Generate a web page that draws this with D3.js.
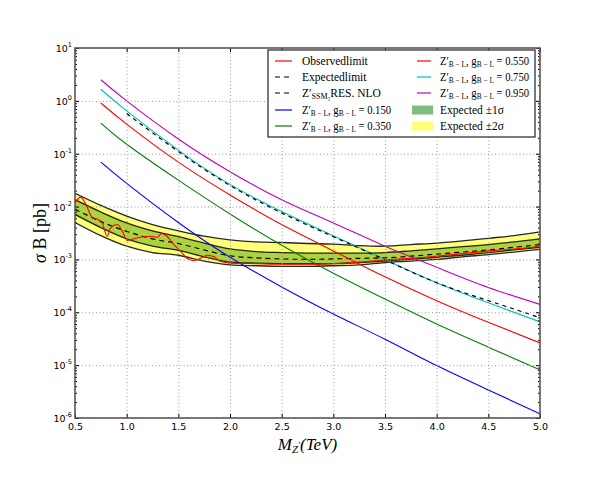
<!DOCTYPE html>
<html>
<head>
<meta charset="utf-8">
<script src="https://cdn.jsdelivr.net/npm/d3@7"></script>
<style>
  body { margin: 0; background: #fff; }
  svg { display: block; }
  .tick text { font-family: "DejaVu Sans", sans-serif; font-size: 9.5px; fill: #000; }
  .grid line { stroke: #9a9a9a; stroke-dasharray: 1,2.5; stroke-width: 1; }
  .grid path { display: none; }
  .legend text { font-family: "Liberation Serif", "DejaVu Serif", serif; font-size: 11.5px; }
</style>
</head>
<body>
<svg id="chart" width="600" height="480"></svg>
<script>
// ---- data (cross sections in pb) ----
const massTheory = [0.75, 1.0, 1.5, 2.0, 2.5, 3.0, 3.5, 4.0, 4.5, 5.0];
const xsecG150 = [0.0692, 0.0275, 0.0050, 0.0011, 3.02e-4, 9.3e-5, 3.09e-5, 9.8e-6, 3.39e-6, 1.2e-6];
const xsecG350 = [0.380, 0.151, 0.0316, 0.00724, 0.00186, 5.5e-4, 1.78e-4, 6.0e-5, 2.19e-5, 8.1e-6];
const xsecG550 = [0.912, 0.363, 0.0692, 0.0166, 0.00457, 0.00145, 4.68e-4, 1.66e-4, 6.46e-5, 2.63e-5];
const xsecG750 = [1.66, 0.646, 0.117, 0.0263, 0.0081, 0.00282, 0.00100, 3.63e-4, 1.51e-4, 6.6e-5];
const xsecG950 = [2.51, 1.0, 0.19, 0.0457, 0.0135, 0.0049, 0.00178, 7.1e-4, 2.95e-4, 1.41e-4];

const massSSM = [1.0, 1.5, 2.0, 2.5, 3.0, 3.5, 4.0, 4.5, 5.0];
const xsecSSM = [0.575, 0.110, 0.0251, 0.00759, 0.00269, 9.8e-4, 3.63e-4, 1.66e-4, 7.9e-5];

const massBand = [0.5, 0.75, 1.0, 1.25, 1.5, 1.75, 2.0, 2.25, 2.5, 2.75, 3.0, 3.25, 3.5, 3.75, 4.0, 4.25, 4.5, 4.75, 5.0];
const expLimit = [8.9e-3, 5.2e-3, 3.4e-3, 2.45e-3, 2.0e-3, 1.51e-3, 1.17e-3, 1.07e-3, 1.02e-3, 1.0e-3, 1.02e-3, 1.05e-3, 1.07e-3, 1.15e-3, 1.26e-3, 1.38e-3, 1.51e-3, 1.70e-3, 1.91e-3];
const plus2 = [1.78e-2, 1.05e-2, 6.6e-3, 4.57e-3, 3.47e-3, 2.75e-3, 2.34e-3, 2.14e-3, 2.09e-3, 2.0e-3, 1.95e-3, 1.82e-3, 1.78e-3, 1.91e-3, 2.04e-3, 2.24e-3, 2.51e-3, 2.82e-3, 3.31e-3];
const plus1 = [1.35e-2, 7.9e-3, 4.9e-3, 3.47e-3, 2.69e-3, 2.04e-3, 1.58e-3, 1.41e-3, 1.35e-3, 1.32e-3, 1.32e-3, 1.32e-3, 1.35e-3, 1.45e-3, 1.58e-3, 1.74e-3, 1.91e-3, 2.14e-3, 2.45e-3];
const minus1 = [7.1e-3, 4.0e-3, 2.45e-3, 1.78e-3, 1.48e-3, 1.12e-3, 8.9e-4, 8.5e-4, 8.3e-4, 8.3e-4, 8.3e-4, 8.7e-4, 9.3e-4, 1.0e-3, 1.10e-3, 1.20e-3, 1.35e-3, 1.51e-3, 1.70e-3];
const minus2 = [5.0e-3, 2.82e-3, 1.78e-3, 1.35e-3, 1.20e-3, 9.3e-4, 7.9e-4, 7.6e-4, 7.4e-4, 7.4e-4, 7.6e-4, 7.9e-4, 8.7e-4, 9.3e-4, 1.0e-3, 1.12e-3, 1.23e-3, 1.38e-3, 1.55e-3];

const massObs = [0.5, 0.555, 0.61, 0.667, 0.716, 0.76, 0.812, 0.845, 0.91, 0.957, 1.005, 1.05, 1.13, 1.23, 1.30, 1.335, 1.39, 1.457, 1.52, 1.585, 1.65, 1.716, 1.78, 1.845, 1.91, 2.0, 2.25, 2.5, 2.75, 3.0, 3.25, 3.5, 3.75, 4.0, 4.25, 4.5, 4.75, 5.0];
const obsLimit = [1.17e-2, 1.51e-2, 1.05e-2, 6.2e-3, 5.75e-3, 5.0e-3, 2.75e-3, 4.0e-3, 4.57e-3, 3.47e-3, 2.29e-3, 2.4e-3, 2.63e-3, 2.75e-3, 2.63e-3, 3.1e-3, 2.75e-3, 1.91e-3, 1.45e-3, 1.05e-3, 9.5e-4, 1.05e-3, 1.2e-3, 1.12e-3, 9.1e-4, 8.5e-4, 8.3e-4, 8.1e-4, 8.1e-4, 8.3e-4, 8.9e-4, 9.8e-4, 1.05e-3, 1.15e-3, 1.29e-3, 1.45e-3, 1.58e-3, 1.78e-3];

const xTicks = [0.5, 1.0, 1.5, 2.0, 2.5, 3.0, 3.5, 4.0, 4.5, 5.0];
const yExponents = [-6, -5, -4, -3, -2, -1, 0, 1];

// ---- layout ----
const svg = d3.select("#chart");
const pLeft = 75, pRight = 540, pTop = 48, pBottom = 418;

const x = d3.scaleLinear().domain([0.5, 5.0]).range([pLeft, pRight]);
const y = d3.scaleLog().domain([1e-6, 10]).range([pBottom, pTop]);

svg.append("defs").append("clipPath").attr("id", "plotClip")
  .append("rect").attr("x", pLeft).attr("y", pTop)
  .attr("width", pRight - pLeft).attr("height", pBottom - pTop);

const plot = svg.append("g").attr("clip-path", "url(#plotClip)");

// bands
const zipBand = (lo, hi) => massBand.map((m, i) => ({ m, lo: lo[i], hi: hi[i] }));
const area = d3.area().curve(d3.curveCatmullRom.alpha(0.5))
  .x(d => x(d.m)).y0(d => y(d.lo)).y1(d => y(d.hi));

plot.append("path").datum(zipBand(minus2, plus2))
  .attr("d", area).attr("fill", "#ffff7a");
plot.append("path").datum(zipBand(minus1, plus1))
  .attr("d", area).attr("fill", "#acd23f");

// grid
const gridG = svg.append("g").attr("class", "grid");
gridG.append("g").attr("transform", `translate(0,${pBottom})`)
  .call(d3.axisBottom(x).tickValues(xTicks.slice(1, -1)).tickSize(-(pBottom - pTop)).tickFormat(""));
gridG.append("g").attr("transform", `translate(${pLeft},0)`)
  .call(d3.axisLeft(y).tickValues(yExponents.slice(1, -1).map(e => Math.pow(10, e))).tickSize(-(pRight - pLeft)).tickFormat(""));

// lines
const zip = (ms, vs) => ms.map((m, i) => [m, vs[i]]);
const bandLine = d3.line().curve(d3.curveCatmullRom.alpha(0.5)).x(d => x(d[0])).y(d => y(d[1]));
const smoothLine = d3.line().curve(d3.curveNatural).x(d => x(d[0])).y(d => y(d[1]));
const obsLine = d3.line().curve(d3.curveMonotoneX).x(d => x(d[0])).y(d => y(d[1]));

[plus2, plus1, minus1, minus2].forEach(s => {
  plot.append("path").datum(zip(massBand, s))
    .attr("d", bandLine).attr("fill", "none")
    .attr("stroke", "#111").attr("stroke-width", 1.3).attr("stroke-opacity", 0.9);
});

plot.append("path").datum(zip(massBand, expLimit))
  .attr("d", bandLine).attr("fill", "none")
  .attr("stroke", "#000").attr("stroke-width", 1.2).attr("stroke-dasharray", "5,4");

const theory = [
  { vals: xsecG150, color: "#0000ff" },
  { vals: xsecG350, color: "#008000" },
  { vals: xsecG550, color: "#ff0000" },
  { vals: xsecG750, color: "#00bfbf" },
  { vals: xsecG950, color: "#bf00bf" }
];
theory.forEach(t => {
  plot.append("path").datum(zip(massTheory, t.vals))
    .attr("d", smoothLine).attr("fill", "none")
    .attr("stroke", t.color).attr("stroke-width", 1.1);
});

plot.append("path").datum(zip(massSSM, xsecSSM))
  .attr("d", smoothLine).attr("fill", "none")
  .attr("stroke", "#000").attr("stroke-width", 1.2).attr("stroke-dasharray", "4,4");

plot.append("path").datum(zip(massObs, obsLimit))
  .attr("d", obsLine).attr("fill", "none")
  .attr("stroke", "#ff0000").attr("stroke-width", 1.1);

// axes (inward ticks on all sides)
svg.append("g").attr("transform", `translate(0,${pBottom})`)
  .call(d3.axisBottom(x).tickValues(xTicks).tickSize(-4).tickPadding(5).tickFormat(d3.format(".1f")));
svg.append("g").attr("transform", `translate(0,${pTop})`)
  .call(d3.axisTop(x).tickValues(xTicks).tickSize(-4).tickFormat(""));

const majors = yExponents.map(e => Math.pow(10, e));
const minors = [];
yExponents.slice(0, -1).forEach(e => {
  for (let k = 2; k <= 9; k++) minors.push(k * Math.pow(10, e));
});

svg.append("g").attr("transform", `translate(${pLeft},0)`)
  .call(d3.axisLeft(y).tickValues(majors).tickSize(-4).tickFormat(""));
svg.append("g").attr("transform", `translate(${pLeft},0)`)
  .call(d3.axisLeft(y).tickValues(minors).tickSize(-2).tickFormat(""));
svg.append("g").attr("transform", `translate(${pRight},0)`)
  .call(d3.axisRight(y).tickValues(majors).tickSize(-4).tickFormat(""));
svg.append("g").attr("transform", `translate(${pRight},0)`)
  .call(d3.axisRight(y).tickValues(minors).tickSize(-2).tickFormat(""));

svg.selectAll(".domain").attr("stroke", "none");
svg.selectAll(".tick line").filter(function () {
  return !this.closest(".grid");
}).attr("stroke", "#000");

// y tick labels as 10^n
yExponents.forEach(e => {
  const t = svg.append("text")
    .attr("x", pLeft - 3).attr("y", y(Math.pow(10, e)) + 4)
    .attr("text-anchor", "end")
    .attr("font-family", "DejaVu Sans, sans-serif").attr("font-size", 9.5);
  t.append("tspan").text("10");
  t.append("tspan").attr("dy", -5).attr("font-size", 6.5).text(String(e));
});

// frame
svg.append("rect").attr("x", pLeft).attr("y", pTop)
  .attr("width", pRight - pLeft).attr("height", pBottom - pTop)
  .attr("fill", "none").attr("stroke", "#555").attr("stroke-width", 1.6);

// axis titles
const yt = svg.append("text")
  .attr("transform", `translate(46,${(pTop + pBottom) / 2}) rotate(-90)`)
  .attr("text-anchor", "middle")
  .attr("font-family", "Liberation Serif, DejaVu Serif, serif").attr("font-size", 18);
yt.append("tspan").attr("font-style", "italic").text("σ");
yt.append("tspan").text(" B [pb]");

const xt = svg.append("text")
  .attr("x", (pLeft + pRight) / 2).attr("y", 450)
  .attr("text-anchor", "middle")
  .attr("font-family", "Liberation Serif, DejaVu Serif, serif").attr("font-size", 17)
  .attr("font-style", "italic");
xt.append("tspan").text("M");
xt.append("tspan").attr("font-size", 11).attr("dy", 3).text("Z");
xt.append("tspan").attr("font-size", 9).attr("dy", -5).text("′");
xt.append("tspan").attr("dy", 2).text("(TeV)");

// legend
const legend = svg.append("g").attr("class", "legend");
legend.append("rect").attr("x", 268).attr("y", 50).attr("width", 267).attr("height", 87)
  .attr("fill", "#fff").attr("stroke", "#222").attr("stroke-width", 1.2);

const rowY = [61, 77, 93, 110, 126];

function bl(t, gval) {
  // Z'_{B-L}, g_{B-L} = value
  t.append("tspan").text("Z′");
  t.append("tspan").attr("font-size", 8).attr("dy", 2.5).text("B − L");
  t.append("tspan").attr("dy", -2.5).text(",  g");
  t.append("tspan").attr("font-size", 8).attr("dy", 2.5).text("B − L");
  t.append("tspan").attr("dy", -2.5).text(" = " + gval);
  t.attr("data-fit", 89);
}

const entries = [
  { col: 0, row: 0, kind: "line", color: "#ff0000", text: t => t.text("Observedlimit") },
  { col: 0, row: 1, kind: "dash", color: "#000", text: t => t.text("Expectedlimit") },
  { col: 0, row: 2, kind: "dash", color: "#000", text: t => {
      t.append("tspan").text("Z′");
      t.append("tspan").attr("font-size", 8).attr("dy", 2.5).text("SSM₃");
      t.append("tspan").attr("dy", -2.5).text("RES.  NLO");
    } },
  { col: 0, row: 3, kind: "line", color: "#0000ff", text: t => bl(t, "0.150") },
  { col: 0, row: 4, kind: "line", color: "#008000", text: t => bl(t, "0.350") },
  { col: 1, row: 0, kind: "line", color: "#ff0000", text: t => bl(t, "0.550") },
  { col: 1, row: 1, kind: "line", color: "#00bfbf", text: t => bl(t, "0.750") },
  { col: 1, row: 2, kind: "line", color: "#bf00bf", text: t => bl(t, "0.950") },
  { col: 1, row: 3, kind: "patch", color: "#7dbd7d", text: t => t.text("Expected  ±1σ") },
  { col: 1, row: 4, kind: "patch", color: "#ffff7a", text: t => t.text("Expected  ±2σ") }
];

const colHandle = [[275, 292], [417, 431]];
const colText = [302, 440];

entries.forEach(en => {
  const yy = rowY[en.row];
  const [h0, h1] = colHandle[en.col];
  if (en.kind === "patch") {
    legend.append("rect").attr("x", 412).attr("y", yy - 4.5).attr("width", 21).attr("height", 9)
      .attr("fill", en.color);
  } else {
    legend.append("line").attr("x1", h0).attr("x2", h1).attr("y1", yy).attr("y2", yy)
      .attr("stroke", en.color).attr("stroke-width", 1.2)
      .attr("stroke-dasharray", en.kind === "dash" ? "5,4" : null);
  }
  const t = legend.append("text").attr("x", colText[en.col]).attr("y", yy + 3.5);
  en.text(t);
  // squeeze the long coupling labels so they stay inside the box
  const fit = +t.attr("data-fit");
  if (fit && t.node().getComputedTextLength() > fit) {
    t.attr("textLength", fit).attr("lengthAdjust", "spacingAndGlyphs");
  }
});
</script>
</body>
</html>
